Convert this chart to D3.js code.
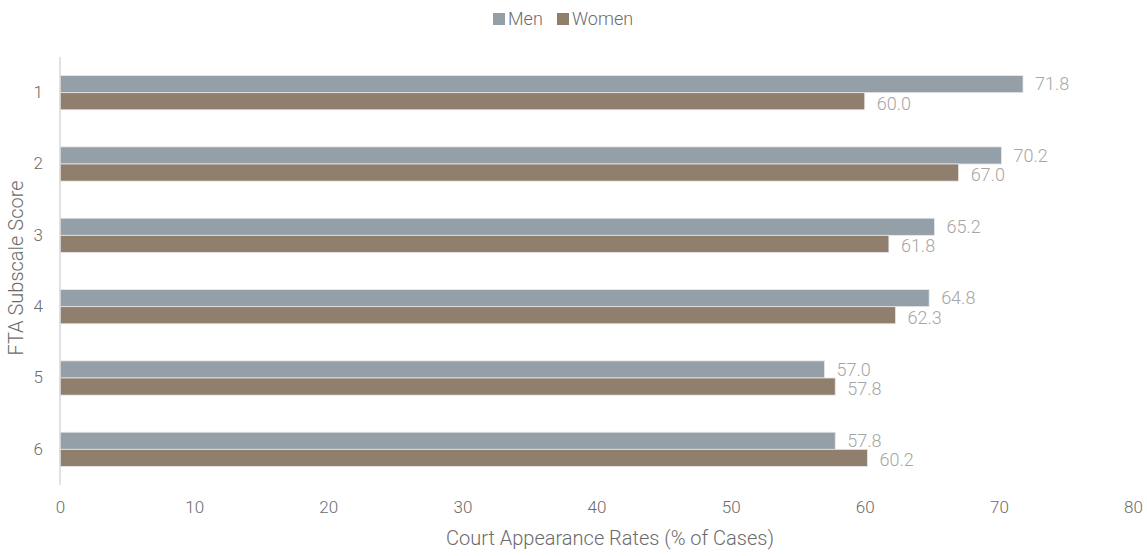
<!DOCTYPE html>
<html>
<head>
<meta charset="utf-8">
<script src="https://cdn.jsdelivr.net/npm/d3@7"></script>
<style>
  body { margin: 0; background: #fff; }
  svg { display: block; font-family: Roboto, "Open Sans", sans-serif; font-weight: 300; }
</style>
</head>
<body>
<svg id="chart" width="1147" height="556"></svg>
<script>
// FTA subscale scores and court appearance rates by gender
const categories = ["1", "2", "3", "4", "5", "6"];
const seriesNames = ["Men", "Women"];
const menValues = [71.8, 70.2, 65.2, 64.8, 57.0, 57.8];
const womenValues = [60.0, 67.0, 61.8, 62.3, 57.8, 60.2];
const xTicks = [0, 10, 20, 30, 40, 50, 60, 70, 80];
const colors = { Men: "#959fa8", Women: "#917f6e" };

const svg = d3.select("#chart");
const margin = { left: 60, right: 14, top: 57, bottom: 71 };
const W = 1147, H = 556;

const x = d3.scaleLinear().domain([0, 80]).range([margin.left, W - margin.right]);
const y = d3.scaleBand().domain(categories).range([margin.top, H - margin.bottom]).paddingInner(0.52).paddingOuter(0.26);
const sub = d3.scaleBand().domain(seriesNames).range([0, y.bandwidth()]);
const labelShift = { Men: 0, Women: 2 };

const rows = categories.map((c, i) => ({ cat: c, Men: menValues[i], Women: womenValues[i] }));

// bars
const groups = svg.append("g").selectAll("g").data(rows).join("g")
  .attr("transform", d => `translate(0,${y(d.cat)})`);

groups.selectAll("rect").data(d => seriesNames.map(s => ({ s, v: d[s] }))).join("rect")
  .attr("x", x(0))
  .attr("y", d => sub(d.s))
  .attr("width", d => x(d.v) - x(0))
  .attr("height", sub.bandwidth())
  .attr("fill", d => colors[d.s])
  .attr("stroke", "#e8e8e8")
  .attr("stroke-width", 0.8);

// value labels
groups.selectAll("text").data(d => seriesNames.map(s => ({ s, v: d[s] }))).join("text")
  .attr("x", d => x(d.v) + 12)
  .attr("y", d => sub(d.s) + sub.bandwidth() / 2 + labelShift[d.s])
  .attr("dy", "0.35em")
  .attr("fill", "#a6a6a6")
  .attr("font-size", 18)
  .text(d => d.v.toFixed(1));

// y axis
const yAxis = svg.append("g").attr("transform", `translate(${margin.left},0)`)
  .call(d3.axisLeft(y).tickSize(0).tickPadding(17));
yAxis.select(".domain").attr("stroke", "#d9d9d9").attr("stroke-width", 1.5)
  .attr("d", `M0,${margin.top}V${H - margin.bottom}`);
yAxis.selectAll("text").attr("fill", "#6b6b6b").attr("font-size", 17)
  .attr("font-family", "Roboto, sans-serif").attr("font-weight", 300);

// x axis
const xAxis = svg.append("g").attr("transform", `translate(0,${H - margin.bottom})`)
  .call(d3.axisBottom(x).tickValues(xTicks).tickSize(0).tickPadding(16));
xAxis.select(".domain").remove();
xAxis.selectAll("text").attr("fill", "#6b6b6b").attr("font-size", 17)
  .attr("font-family", "Roboto, sans-serif").attr("font-weight", 300);

// axis titles
svg.append("text")
  .attr("x", 610).attr("y", 545)
  .attr("text-anchor", "middle")
  .attr("fill", "#6b6b6b").attr("font-size", 20)
  .text("Court Appearance Rates (% of Cases)");

svg.append("text")
  .attr("transform", `translate(23,${(margin.top + H - margin.bottom) / 2 - 3}) rotate(-90)`)
  .attr("text-anchor", "middle")
  .attr("fill", "#6b6b6b").attr("font-size", 20)
  .text("FTA Subscale Score");

// legend
const legend = svg.append("g").attr("transform", "translate(493,13)");
const legendX = [0, 64];
seriesNames.forEach((s, i) => {
  const g = legend.append("g").attr("transform", `translate(${legendX[i]},0)`);
  g.append("rect").attr("width", 12).attr("height", 12).attr("fill", colors[s]);
  g.append("text").attr("x", 15).attr("y", 6).attr("dy", "0.35em")
    .attr("fill", "#6b6b6b").attr("font-size", 18).text(s);
});
</script>
</body>
</html>
